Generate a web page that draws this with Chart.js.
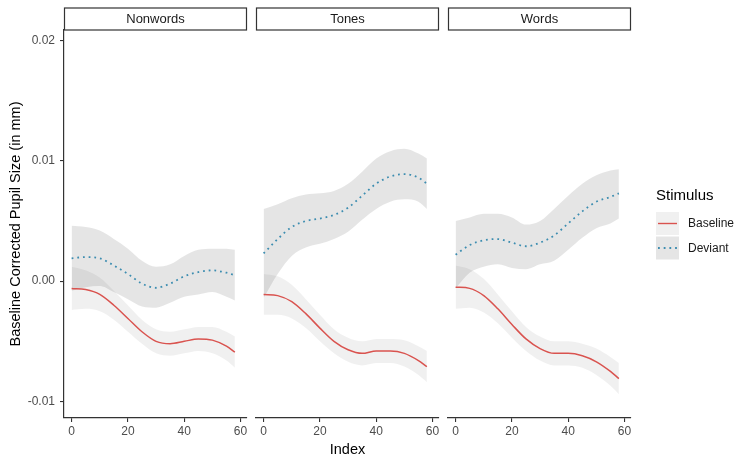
<!DOCTYPE html>
<html>
<head>
<meta charset="utf-8">
<script src="https://cdn.jsdelivr.net/npm/chart.js@4.4.1/dist/chart.umd.min.js"></script>
<style>
  html, body { margin: 0; padding: 0; background: #fff; }
  #wrap { position: relative; width: 736px; height: 459px; overflow: hidden; }
  #wrap canvas { position: absolute; top: 0; }
</style>
</head>
<body>
<div id="wrap">
  <canvas id="c0"></canvas>
  <canvas id="c1"></canvas>
  <canvas id="c2"></canvas>
</div>
<script>
// facets and legend entries
const panels = ['Nonwords', 'Tones', 'Words'];
const stimulus = ['Baseline', 'Deviant'];
const index = [0, 5, 10, 15, 20, 25, 30, 35, 40, 45, 50, 55, 58];
const xTicks = [0, 20, 40, 60];
const yTicks = [-0.01, 0, 0.01, 0.02];

// Nonwords
const nonwordsBaseline = [-0.0006, -0.0007, -0.0011, -0.0020, -0.0031, -0.0042, -0.0050, -0.0052, -0.0050, -0.0048, -0.0049, -0.0054, -0.0059];
const nonwordsBaselineHi = [0.0012, 0.0009, 0.0003, -0.0008, -0.0020, -0.0032, -0.0040, -0.0042, -0.0040, -0.0038, -0.0038, -0.0042, -0.0046];
const nonwordsBaselineLo = [-0.0024, -0.0023, -0.0025, -0.0032, -0.0042, -0.0052, -0.0060, -0.0062, -0.0060, -0.0058, -0.0060, -0.0066, -0.0072];
const nonwordsDeviant = [0.0019, 0.0020, 0.0019, 0.0013, 0.0006, -0.0002, -0.00055, -0.0002, 0.0004, 0.00075, 0.0009, 0.0007, 0.0005];
const nonwordsDeviantHi = [0.0046, 0.0045, 0.0042, 0.0035, 0.0027, 0.0017, 0.0012, 0.0014, 0.0021, 0.0026, 0.0027, 0.0027, 0.0026];
const nonwordsDeviantLo = [-0.0008, -0.0005, -0.0004, -0.0009, -0.0015, -0.0021, -0.0022, -0.0018, -0.0013, -0.0011, -0.0009, -0.0013, -0.0016];

// Tones
const tonesBaseline = [-0.0011, -0.0012, -0.0017, -0.0027, -0.0039, -0.0050, -0.0057, -0.0060, -0.0058, -0.0058, -0.0060, -0.0066, -0.0071];
const tonesBaselineHi = [0.0006, 0.0004, -0.0003, -0.0015, -0.0028, -0.0040, -0.0047, -0.0050, -0.0048, -0.0048, -0.0049, -0.0054, -0.0058];
const tonesBaselineLo = [-0.0028, -0.0028, -0.0031, -0.0039, -0.0050, -0.0060, -0.0067, -0.0070, -0.0068, -0.0068, -0.0071, -0.0078, -0.0084];
const tonesDeviant = [0.0023, 0.0035, 0.0045, 0.0050, 0.0052, 0.0055, 0.0061, 0.0071, 0.0081, 0.0087, 0.0089, 0.0086, 0.0081];
const tonesDeviantHi = [0.0060, 0.0064, 0.0069, 0.0072, 0.0073, 0.0075, 0.0081, 0.0091, 0.0102, 0.0108, 0.0110, 0.0106, 0.0102];
const tonesDeviantLo = [-0.0014, 0.0006, 0.0021, 0.0028, 0.0031, 0.0035, 0.0041, 0.0051, 0.0060, 0.0066, 0.0068, 0.0066, 0.0060];

// Words
const wordsBaseline = [-0.0005, -0.0006, -0.0012, -0.0023, -0.0036, -0.0048, -0.0056, -0.0060, -0.0060, -0.0062, -0.0067, -0.0075, -0.0081];
const wordsBaselineHi = [0.0013, 0.0010, 0.0002, -0.0011, -0.0025, -0.0038, -0.0046, -0.0050, -0.0050, -0.0052, -0.0056, -0.0063, -0.0068];
const wordsBaselineLo = [-0.0023, -0.0022, -0.0026, -0.0035, -0.0047, -0.0058, -0.0066, -0.0070, -0.0070, -0.0072, -0.0078, -0.0087, -0.0094];
const wordsDeviant = [0.0022, 0.0030, 0.0034, 0.0035, 0.0032, 0.0029, 0.0032, 0.0038, 0.0048, 0.0058, 0.0066, 0.0070, 0.0073];
const wordsDeviantHi = [0.0050, 0.0053, 0.0056, 0.0056, 0.0053, 0.0047, 0.0050, 0.0060, 0.0071, 0.0081, 0.0088, 0.0092, 0.0093];
const wordsDeviantLo = [-0.0006, 0.0007, 0.0012, 0.0014, 0.0011, 0.0010, 0.0014, 0.0017, 0.0026, 0.0036, 0.0044, 0.0048, 0.0052];

const panelData = [
  [nonwordsBaseline, nonwordsBaselineHi, nonwordsBaselineLo, nonwordsDeviant, nonwordsDeviantHi, nonwordsDeviantLo],
  [tonesBaseline, tonesBaselineHi, tonesBaselineLo, tonesDeviant, tonesDeviantHi, tonesDeviantLo],
  [wordsBaseline, wordsBaselineHi, wordsBaselineLo, wordsDeviant, wordsDeviantHi, wordsDeviantLo]
];

const lineColors = ['#d9534f', '#3d8db0'];
const bandColors = ['rgba(0,0,0,0.06)', 'rgba(0,0,0,0.10)'];
const FONT = '"Liberation Sans", Arial, Helvetica, sans-serif';
Chart.defaults.font.family = FONT;

// canvas placement: [left, width, padLeft, padRight]
const boxes = [[0, 251, 0, 4], [250, 193, 6, 4], [442, 294, 6, 105]];

const stripPlugin = {
  id: 'strip',
  afterDraw(chart, args, opts) {
    const { ctx, chartArea } = chart;
    const x = chartArea.left + 0.5, y = 8, w = chartArea.right - chartArea.left - 1, h = 22;
    ctx.save();
    ctx.fillStyle = '#fff';
    ctx.fillRect(x, y, w, h);
    ctx.strokeStyle = '#333';
    ctx.lineWidth = 1.2;
    ctx.strokeRect(x, y, w, h);
    ctx.fillStyle = '#1a1a1a';
    ctx.font = '13px ' + FONT;
    ctx.textAlign = 'center';
    ctx.textBaseline = 'middle';
    ctx.fillText(opts.label, (chartArea.left + chartArea.right) / 2, y + h / 2 + 0.5);
    ctx.restore();
  }
};

const legendPlugin = {
  id: 'stimLegend',
  afterDraw(chart, args, opts) {
    if (!opts.show) return;
    const { ctx, chartArea } = chart;
    const x0 = chartArea.right + 25;
    ctx.save();
    ctx.fillStyle = '#000';
    ctx.font = '15px ' + FONT;
    ctx.textBaseline = 'middle';
    ctx.textAlign = 'left';
    ctx.fillText('Stimulus', x0, 196);
    stimulus.forEach((name, k) => {
      const top = 212 + k * 24.5;
      ctx.fillStyle = bandColors[k];
      ctx.fillRect(x0, top, 23, 23);
      ctx.strokeStyle = lineColors[k];
      ctx.lineWidth = k === 0 ? 1.4 : 1.8;
      ctx.setLineDash(k === 0 ? [] : [1.8, 3.9]);
      ctx.beginPath();
      ctx.moveTo(x0 + 2, top + 11.5);
      ctx.lineTo(x0 + 21, top + 11.5);
      ctx.stroke();
      ctx.setLineDash([]);
      ctx.fillStyle = '#1a1a1a';
      ctx.font = '12px ' + FONT;
      ctx.fillText(name, x0 + 32, top + 12);
    });
    ctx.restore();
  }
};

function pts(arr) {
  return index.map((x, k) => ({ x: x, y: arr[k] }));
}

function makePanel(i) {
  const [left, width, padL, padR] = boxes[i];
  const canvas = document.getElementById('c' + i);
  canvas.width = width;
  canvas.height = 459;
  canvas.style.left = left + 'px';
  const d = panelData[i];
  const band = (arr, fill, color) => ({
    data: pts(arr), borderColor: 'rgba(0,0,0,0)', borderWidth: 0, pointRadius: 0,
    cubicInterpolationMode: 'monotone', fill: fill, backgroundColor: color, order: 2
  });
  const datasets = [
    band(d[1], false, 'rgba(0,0,0,0)'),
    band(d[2], '-1', bandColors[0]),
    band(d[4], false, 'rgba(0,0,0,0)'),
    band(d[5], '-1', bandColors[1]),
    { label: stimulus[0], data: pts(d[0]), borderColor: lineColors[0], borderWidth: 1.5,
      pointRadius: 0, cubicInterpolationMode: 'monotone', fill: false, order: 1 },
    { label: stimulus[1], data: pts(d[3]), borderColor: lineColors[1], borderWidth: 1.8,
      borderDash: [1.8, 3.9], pointRadius: 0, cubicInterpolationMode: 'monotone', fill: false, order: 1 }
  ];

  new Chart(canvas, {
    type: 'line',
    data: { datasets: datasets },
    options: {
      responsive: false,
      animation: false,
      devicePixelRatio: 1,
      layout: { padding: { top: 30, left: padL, right: padR, bottom: 0 } },
      plugins: {
        legend: { display: false },
        tooltip: { enabled: false },
        strip: { label: panels[i] },
        stimLegend: { show: i === 2 }
      },
      scales: {
        x: {
          type: 'linear',
          min: -2.7,
          max: 62.3,
          afterBuildTicks: s => { s.ticks = xTicks.map(v => ({ value: v })); },
          afterFit: s => { s.height = 41; },
          grid: { display: true, drawOnChartArea: false, drawTicks: true, tickLength: 4, color: '#333', lineWidth: 1.1 },
          border: { display: true, color: '#333', width: 1.2 },
          ticks: { color: '#4d4d4d', font: { size: 12 }, padding: 2, maxRotation: 0, autoSkip: false,
                   callback: v => String(v) },
          title: { display: i === 1, text: 'Index', color: '#000', font: { size: 14.5 }, padding: 0 }
        },
        y: {
          type: 'linear',
          display: i === 0,
          min: -0.01137,
          max: 0.02087,
          afterBuildTicks: s => { s.ticks = yTicks.map(v => ({ value: v })); },
          afterFit: s => { s.width = i === 0 ? 64 : 0; },
          grid: { display: true, drawOnChartArea: false, drawTicks: true, tickLength: 4, color: '#333', lineWidth: 1.1 },
          border: { display: true, color: '#333', width: 1.2 },
          ticks: { color: '#4d4d4d', font: { size: 12 }, padding: 5, callback: v => v.toFixed(2) },
          title: { display: true, text: 'Baseline Corrected Pupil Size (in mm)', color: '#000',
                   font: { size: 14.5 }, padding: { top: 7, bottom: 0 } }
        }
      }
    },
    plugins: [stripPlugin, legendPlugin]
  });
}

panels.forEach((p, i) => makePanel(i));
</script>
</body>
</html>
